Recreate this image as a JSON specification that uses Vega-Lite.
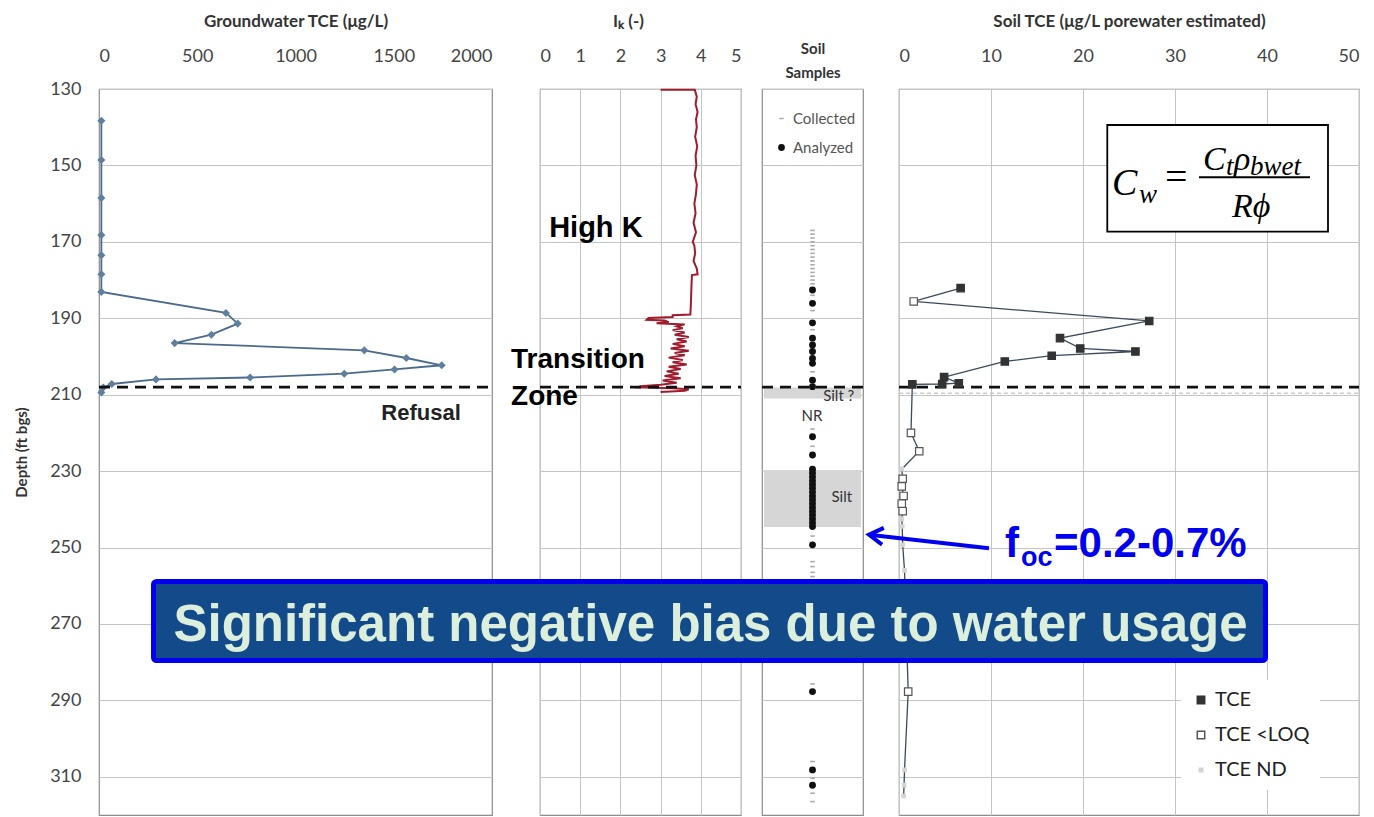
{
"$schema": "https://vega.github.io/schema/vega-lite/v6.json",
"background": "white",
"padding": {"left": 14, "top": 11, "right": 0, "bottom": 0},
"config": {
  "font": "Lato",
  "view": {"stroke": "#8c8c8c", "strokeWidth": 1.2},
  "axis": {"domain": false, "ticks": false, "tickSize": 0, "gridColor": "#c4c4c4", "gridWidth": 1, "labelFont": "Lato", "labelFontSize": 18, "labelColor": "#444", "titleFont": "Lato", "titleFontSize": 17, "titleFontWeight": "bold", "titleColor": "#333", "labelPadding": 24, "titlePadding": 17, "format": "d"}
},
"bounds": "flush",
"spacing": 0,
"resolve": {"scale": {"fill": "independent", "stroke": "independent", "shape": "independent", "size": "independent"}},
"hconcat": [
  {
    "width": 393, "height": 726,
    "encoding": {
      "x": {"field": "x", "type": "quantitative", "scale": {"domain": [0, 2000], "nice": false, "zero": false}, "axis": {"orient": "top", "values": [0, 500, 1000, 1500, 2000], "grid": false, "title": "Groundwater TCE (μg/L)"}},
      "y": {"field": "depth", "type": "quantitative", "scale": {"domain": [130, 320], "reverse": true, "nice": false, "zero": false}, "axis": {"orient": "left", "values": [130, 150, 170, 190, 210, 230, 250, 270, 290, 310], "title": "Depth (ft bgs)", "titleFontSize": 15, "labelPadding": 18, "titlePadding": 20, "grid": true}}
    },
    "layer": [
      {
        "data": {"values": [
          {"n": 1, "x": 12, "depth": 138.3}, {"n": 2, "x": 12, "depth": 148.6}, {"n": 3, "x": 12, "depth": 158.5},
          {"n": 4, "x": 12, "depth": 168.2}, {"n": 5, "x": 12, "depth": 173.5}, {"n": 6, "x": 12, "depth": 178.5},
          {"n": 7, "x": 12, "depth": 183.1}, {"n": 8, "x": 646, "depth": 188.6}, {"n": 9, "x": 706, "depth": 191.4},
          {"n": 10, "x": 572, "depth": 194.3}, {"n": 11, "x": 385, "depth": 196.5}, {"n": 12, "x": 1350, "depth": 198.4},
          {"n": 13, "x": 1564, "depth": 200.4}, {"n": 14, "x": 1744, "depth": 202.3}, {"n": 15, "x": 1504, "depth": 203.4},
          {"n": 16, "x": 1248, "depth": 204.5}, {"n": 17, "x": 769, "depth": 205.5}, {"n": 18, "x": 290, "depth": 206.0},
          {"n": 19, "x": 65, "depth": 207.2}, {"n": 20, "x": 22, "depth": 208.1}, {"n": 21, "x": 12, "depth": 209.4}
        ]},
        "mark": {"type": "line", "color": "#4a6a8c", "strokeWidth": 1.8, "point": {"shape": "diamond", "size": 65, "filled": true, "color": "#5f7f9f"}},
        "encoding": {"order": {"field": "n", "type": "quantitative"}}
      },
      {
        "data": {"values": [{"x": 0, "x2": 2000, "depth": 208}]},
        "mark": {"type": "rule", "strokeDash": [11, 7], "strokeWidth": 2.8, "color": "#111"},
        "encoding": {"x2": {"field": "x2"}}
      },
      {
        "data": {"values": [{"x": 1639, "depth": 214.8, "label": "Refusal"}]},
        "mark": {"type": "text", "font": "Liberation Sans", "fontWeight": "bold", "fontSize": 22, "color": "#222", "align": "center", "baseline": "middle"},
        "encoding": {"text": {"field": "label"}}
      }
    ]
  },
  {
    "width": 48, "height": 726, "view": {"stroke": null},
    "data": {"values": []},
    "mark": {"type": "point", "opacity": 0}
  },
  {
    "width": 201, "height": 726,
    "encoding": {
      "x": {"field": "x", "type": "quantitative", "scale": {"domain": [0, 5], "nice": false, "zero": false}, "axis": {"orient": "top", "values": [0, 1, 2, 3, 4, 5], "grid": true, "title": "Iₖ (-)", "titleX": 88}},
      "y": {"field": "depth", "type": "quantitative", "scale": {"domain": [130, 320], "reverse": true, "nice": false, "zero": false}, "axis": {"values": [130, 150, 170, 190, 210, 230, 250, 270, 290, 310], "labels": false, "title": null, "grid": true}}
    },
    "layer": [
      {
        "data": {"values": [
          {"n": 1, "x": 3.0, "depth": 130.2}, {"n": 2, "x": 3.85, "depth": 130.2}, {"n": 3, "x": 3.9, "depth": 132},
          {"n": 4, "x": 3.87, "depth": 134}, {"n": 5, "x": 3.92, "depth": 136}, {"n": 6, "x": 3.88, "depth": 138},
          {"n": 7, "x": 3.9, "depth": 140}, {"n": 8, "x": 3.86, "depth": 142.5}, {"n": 9, "x": 3.91, "depth": 145},
          {"n": 10, "x": 3.87, "depth": 147.5}, {"n": 11, "x": 3.89, "depth": 150}, {"n": 12, "x": 3.85, "depth": 152.5},
          {"n": 13, "x": 3.9, "depth": 155}, {"n": 14, "x": 3.88, "depth": 157.5}, {"n": 15, "x": 3.84, "depth": 160},
          {"n": 16, "x": 3.87, "depth": 162.5}, {"n": 17, "x": 3.82, "depth": 165}, {"n": 18, "x": 3.88, "depth": 167.5},
          {"n": 19, "x": 3.8, "depth": 170}, {"n": 20, "x": 3.84, "depth": 171}, {"n": 21, "x": 3.86, "depth": 173},
          {"n": 22, "x": 3.82, "depth": 175}, {"n": 23, "x": 3.9, "depth": 177}, {"n": 24, "x": 3.92, "depth": 178.5},
          {"n": 25, "x": 3.78, "depth": 178.7}, {"n": 26, "x": 3.77, "depth": 181}, {"n": 27, "x": 3.76, "depth": 184},
          {"n": 28, "x": 3.75, "depth": 187}, {"n": 29, "x": 3.74, "depth": 189}, {"n": 30, "x": 3.3, "depth": 189.2},
          {"n": 31, "x": 3.3, "depth": 189.7}, {"n": 32, "x": 2.7, "depth": 189.9}, {"n": 33, "x": 2.65, "depth": 190.4},
          {"n": 34, "x": 3.1, "depth": 190.6}, {"n": 35, "x": 3.2, "depth": 191.0}, {"n": 36, "x": 2.9, "depth": 191.3},
          {"n": 37, "x": 3.6, "depth": 191.6}, {"n": 38, "x": 3.4, "depth": 192.1}, {"n": 39, "x": 3.55, "depth": 192.6},
          {"n": 40, "x": 3.3, "depth": 193.1}, {"n": 41, "x": 3.6, "depth": 193.7}, {"n": 42, "x": 3.35, "depth": 194.3},
          {"n": 43, "x": 3.7, "depth": 194.9}, {"n": 44, "x": 3.4, "depth": 195.5}, {"n": 45, "x": 3.65, "depth": 196.1},
          {"n": 46, "x": 3.3, "depth": 196.7}, {"n": 47, "x": 3.6, "depth": 197.3}, {"n": 48, "x": 3.25, "depth": 197.9},
          {"n": 49, "x": 3.7, "depth": 198.5}, {"n": 50, "x": 3.35, "depth": 199.1}, {"n": 51, "x": 3.6, "depth": 199.7},
          {"n": 52, "x": 3.2, "depth": 200.3}, {"n": 53, "x": 3.55, "depth": 200.9}, {"n": 54, "x": 3.3, "depth": 201.5},
          {"n": 55, "x": 3.65, "depth": 202.1}, {"n": 56, "x": 3.2, "depth": 202.7}, {"n": 57, "x": 3.5, "depth": 203.3},
          {"n": 58, "x": 3.15, "depth": 203.9}, {"n": 59, "x": 3.45, "depth": 204.5}, {"n": 60, "x": 3.1, "depth": 205.1},
          {"n": 61, "x": 3.5, "depth": 205.7}, {"n": 62, "x": 3.05, "depth": 206.3}, {"n": 63, "x": 3.4, "depth": 206.9},
          {"n": 64, "x": 3.0, "depth": 207.4}, {"n": 65, "x": 2.5, "depth": 207.8}, {"n": 66, "x": 2.45, "depth": 208.1},
          {"n": 67, "x": 3.3, "depth": 208.3}, {"n": 68, "x": 3.7, "depth": 208.6}, {"n": 69, "x": 3.6, "depth": 209.0},
          {"n": 70, "x": 3.0, "depth": 209.3}
        ]},
        "mark": {"type": "line", "color": "#a01c2c", "strokeWidth": 2},
        "encoding": {"order": {"field": "n", "type": "quantitative"}}
      },
      {
        "data": {"values": [{"x": 0, "x2": 5, "depth": 208}]},
        "mark": {"type": "rule", "strokeDash": [11, 7], "strokeWidth": 2.8, "color": "#111"},
        "encoding": {"x2": {"field": "x2"}}
      },
      {
        "data": {"values": [{"x": 1.39, "depth": 166.4, "label": "High K"}]},
        "mark": {"type": "text", "font": "Liberation Sans", "fontWeight": "bold", "fontSize": 29, "color": "#000", "align": "center", "baseline": "middle"},
        "encoding": {"text": {"field": "label"}}
      },
      {
        "data": {"values": [{"x": -0.72, "depth": 200.9, "label": "Transition"}, {"x": -0.72, "depth": 210.6, "label": "Zone"}]},
        "mark": {"type": "text", "font": "Liberation Sans", "fontWeight": "bold", "fontSize": 28, "color": "#000", "align": "left", "baseline": "middle"},
        "encoding": {"text": {"field": "label"}}
      }
    ]
  },
  {
    "width": 21, "height": 726, "view": {"stroke": null},
    "data": {"values": []},
    "mark": {"type": "point", "opacity": 0}
  },
  {
    "width": 101, "height": 726,
    "encoding": {
      "x": {"field": "x", "type": "quantitative", "scale": {"domain": [0, 1], "nice": false, "zero": false}, "axis": {"orient": "top", "values": [0.5], "labels": false, "grid": false, "title": ["Soil", "Samples"], "titleFontSize": 15, "titleLineHeight": 24, "titlePadding": 9}},
      "y": {"field": "depth", "type": "quantitative", "scale": {"domain": [130, 320], "reverse": true, "nice": false, "zero": false}, "axis": {"values": [130, 150, 170, 190, 210, 230, 250, 270, 290, 310], "labels": false, "title": null, "grid": true}}
    },
    "layer": [
      {
        "data": {"values": [{"x": 0.02, "x2": 0.98, "depth": 208.1, "depth2": 211}, {"x": 0.02, "x2": 0.98, "depth": 229.7, "depth2": 244.6}]},
        "mark": {"type": "rect", "color": "#d6d6d6"},
        "encoding": {"x2": {"field": "x2"}, "y2": {"field": "depth2"}}
      },
      {
        "data": {"values": [{"x": 0, "x2": 1, "depth": 208}]},
        "mark": {"type": "rule", "strokeDash": [11, 7], "strokeWidth": 2.8, "color": "#111"},
        "encoding": {"x2": {"field": "x2"}}
      },
      {
        "data": {"values": [
          {"x": 0.5, "depth": 167, "kind": "Collected"}, {"x": 0.5, "depth": 168, "kind": "Collected"}, {"x": 0.5, "depth": 169, "kind": "Collected"},
          {"x": 0.5, "depth": 170, "kind": "Collected"}, {"x": 0.5, "depth": 171, "kind": "Collected"}, {"x": 0.5, "depth": 172, "kind": "Collected"},
          {"x": 0.5, "depth": 173, "kind": "Collected"}, {"x": 0.5, "depth": 174, "kind": "Collected"}, {"x": 0.5, "depth": 175, "kind": "Collected"},
          {"x": 0.5, "depth": 176, "kind": "Collected"}, {"x": 0.5, "depth": 177, "kind": "Collected"}, {"x": 0.5, "depth": 178, "kind": "Collected"},
          {"x": 0.5, "depth": 179, "kind": "Collected"}, {"x": 0.5, "depth": 180, "kind": "Collected"}, {"x": 0.5, "depth": 181, "kind": "Collected"},
          {"x": 0.5, "depth": 184, "kind": "Collected"}, {"x": 0.5, "depth": 188, "kind": "Collected"}, {"x": 0.5, "depth": 193, "kind": "Collected"},
          {"x": 0.5, "depth": 204, "kind": "Collected"}, {"x": 0.5, "depth": 219, "kind": "Collected"}, {"x": 0.5, "depth": 223.5, "kind": "Collected"},
          {"x": 0.5, "depth": 247, "kind": "Collected"}, {"x": 0.5, "depth": 253.7, "kind": "Collected"}, {"x": 0.5, "depth": 255, "kind": "Collected"},
          {"x": 0.5, "depth": 256.5, "kind": "Collected"}, {"x": 0.5, "depth": 257.6, "kind": "Collected"}, {"x": 0.5, "depth": 285.7, "kind": "Collected"},
          {"x": 0.5, "depth": 306, "kind": "Collected"}, {"x": 0.5, "depth": 310.4, "kind": "Collected"}, {"x": 0.5, "depth": 314.3, "kind": "Collected"},
          {"x": 0.5, "depth": 316.5, "kind": "Collected"},
          {"x": 0.5, "depth": 182.6, "kind": "Analyzed"}, {"x": 0.5, "depth": 186.1, "kind": "Analyzed"}, {"x": 0.5, "depth": 191.2, "kind": "Analyzed"},
          {"x": 0.5, "depth": 195.2, "kind": "Analyzed"}, {"x": 0.5, "depth": 197, "kind": "Analyzed"}, {"x": 0.5, "depth": 198.7, "kind": "Analyzed"},
          {"x": 0.5, "depth": 200.5, "kind": "Analyzed"}, {"x": 0.5, "depth": 201.8, "kind": "Analyzed"}, {"x": 0.5, "depth": 206.2, "kind": "Analyzed"},
          {"x": 0.5, "depth": 207.9, "kind": "Analyzed"}, {"x": 0.5, "depth": 221, "kind": "Analyzed"}, {"x": 0.5, "depth": 225.8, "kind": "Analyzed"},
          {"x": 0.5, "depth": 229.5, "kind": "Analyzed"}, {"x": 0.5, "depth": 230.5, "kind": "Analyzed"}, {"x": 0.5, "depth": 231.5, "kind": "Analyzed"},
          {"x": 0.5, "depth": 232.5, "kind": "Analyzed"}, {"x": 0.5, "depth": 233.5, "kind": "Analyzed"}, {"x": 0.5, "depth": 234.5, "kind": "Analyzed"},
          {"x": 0.5, "depth": 235.5, "kind": "Analyzed"}, {"x": 0.5, "depth": 236.5, "kind": "Analyzed"}, {"x": 0.5, "depth": 237.5, "kind": "Analyzed"},
          {"x": 0.5, "depth": 238.5, "kind": "Analyzed"}, {"x": 0.5, "depth": 239.5, "kind": "Analyzed"}, {"x": 0.5, "depth": 240.5, "kind": "Analyzed"},
          {"x": 0.5, "depth": 241.5, "kind": "Analyzed"}, {"x": 0.5, "depth": 242.5, "kind": "Analyzed"}, {"x": 0.5, "depth": 243.5, "kind": "Analyzed"},
          {"x": 0.5, "depth": 244.5, "kind": "Analyzed"}, {"x": 0.5, "depth": 249.3, "kind": "Analyzed"}, {"x": 0.5, "depth": 287.7, "kind": "Analyzed"},
          {"x": 0.5, "depth": 308.2, "kind": "Analyzed"}, {"x": 0.5, "depth": 312.2, "kind": "Analyzed"}
        ]},
        "mark": {"type": "point", "filled": true, "strokeWidth": 1.6, "opacity": 1},
        "encoding": {
          "fill": {"field": "kind", "type": "nominal", "scale": {"domain": ["Collected", "Analyzed"], "range": ["#aaaaaa", "#111111"]}, "legend": {"title": null, "orient": "none", "legendX": 8, "legendY": 18, "padding": 4, "labelFontSize": 15, "labelColor": "#555", "rowPadding": 13, "fillColor": "white"}},
          "stroke": {"field": "kind", "type": "nominal", "scale": {"domain": ["Collected", "Analyzed"], "range": ["#aaaaaa", "#111111"]}, "legend": {"title": null, "orient": "none", "legendX": 8, "legendY": 18, "padding": 4, "labelFontSize": 15, "labelColor": "#555", "rowPadding": 13, "fillColor": "white"}},
          "shape": {"field": "kind", "type": "nominal", "scale": {"domain": ["Collected", "Analyzed"], "range": ["stroke", "circle"]}, "legend": {"title": null, "orient": "none", "legendX": 8, "legendY": 18, "padding": 4, "labelFontSize": 15, "labelColor": "#555", "rowPadding": 13, "fillColor": "white"}},
          "size": {"field": "kind", "type": "nominal", "scale": {"type": "ordinal", "domain": ["Collected", "Analyzed"], "range": [20, 28]}, "legend": {"title": null, "orient": "none", "legendX": 8, "legendY": 18, "padding": 4, "labelFontSize": 15, "labelColor": "#555", "rowPadding": 13, "fillColor": "white"}}
        }
      },
      {
        "data": {"values": [{"x": 0.76, "depth": 210.4, "label": "Silt ?"}, {"x": 0.495, "depth": 215.6, "label": "NR"}, {"x": 0.79, "depth": 236.8, "label": "Silt"}]},
        "mark": {"type": "text", "font": "Lato", "fontSize": 15, "color": "#333", "align": "center", "baseline": "middle"},
        "encoding": {"text": {"field": "label"}}
      }
    ]
  },
  {
    "width": 36, "height": 726, "view": {"stroke": null},
    "data": {"values": []},
    "mark": {"type": "point", "opacity": 0}
  },
  {
    "width": 460, "height": 726,
    "encoding": {
      "x": {"field": "x", "type": "quantitative", "scale": {"domain": [0, 50], "nice": false, "zero": false}, "axis": {"orient": "top", "values": [0, 10, 20, 30, 40, 50], "grid": true, "title": "Soil TCE (μg/L porewater estimated)"}},
      "y": {"field": "depth", "type": "quantitative", "scale": {"domain": [130, 320], "reverse": true, "nice": false, "zero": false}, "axis": {"values": [130, 150, 170, 190, 210, 230, 250, 270, 290, 310], "labels": false, "title": null, "grid": true}}
    },
    "layer": [
      {
        "data": {"values": [{"x": 0, "x2": 50, "depth": 209.6}]},
        "mark": {"type": "rule", "strokeDash": [4, 3], "strokeWidth": 1.5, "color": "#cccccc"},
        "encoding": {"x2": {"field": "x2"}}
      },
      {
        "data": {"name": "soil"},
        "mark": {"type": "line", "color": "#3b4a5a", "strokeWidth": 1.3},
        "encoding": {"order": {"field": "n", "type": "quantitative"}}
      },
      {
        "data": {"values": [{"x": 0, "x2": 50, "depth": 208}]},
        "mark": {"type": "rule", "strokeDash": [11, 7], "strokeWidth": 2.8, "color": "#111"},
        "encoding": {"x2": {"field": "x2"}}
      },
      {
        "data": {"name": "soil"},
        "mark": {"type": "point", "filled": true, "strokeWidth": 1.2, "opacity": 1},
        "encoding": {
          "fill": {"field": "kind", "type": "nominal", "scale": {"domain": ["TCE", "TCE <LOQ", "TCE ND"], "range": ["#333333", "#ffffff", "#d4d4d4"]}, "legend": {"title": null, "orient": "none", "legendX": 282, "legendY": 591, "padding": 10, "labelFontSize": 20, "labelColor": "#222", "rowPadding": 15, "fillColor": "white"}},
          "stroke": {"field": "kind", "type": "nominal", "scale": {"domain": ["TCE", "TCE <LOQ", "TCE ND"], "range": ["#333333", "#555555", "#d4d4d4"]}, "legend": {"title": null, "orient": "none", "legendX": 282, "legendY": 591, "padding": 10, "labelFontSize": 20, "labelColor": "#222", "rowPadding": 15, "fillColor": "white"}},
          "shape": {"field": "kind", "type": "nominal", "scale": {"domain": ["TCE", "TCE <LOQ", "TCE ND"], "range": ["square", "square", "square"]}, "legend": {"title": null, "orient": "none", "legendX": 282, "legendY": 591, "padding": 10, "labelFontSize": 20, "labelColor": "#222", "rowPadding": 15, "fillColor": "white"}},
          "size": {"field": "kind", "type": "nominal", "scale": {"type": "ordinal", "domain": ["TCE", "TCE <LOQ", "TCE ND"], "range": [55, 55, 12]}, "legend": {"title": null, "orient": "none", "legendX": 282, "legendY": 591, "padding": 10, "labelFontSize": 20, "labelColor": "#222", "rowPadding": 15, "fillColor": "white"}}
        }
      },
      {
        "data": {"values": [{"x": 22.64, "x2": 46.63, "depth": 139.42, "depth2": 167.35}]},
        "mark": {"type": "rect", "fill": "white", "stroke": "#000", "strokeWidth": 1.8},
        "encoding": {"x2": {"field": "x2"}, "y2": {"field": "depth2"}}
      },
      {
        "data": {"values": [{"x": 32.61, "x2": 44.67, "depth": 153.11}]},
        "mark": {"type": "rule", "strokeWidth": 2, "color": "#000"},
        "encoding": {"x2": {"field": "x2"}}
      },
      {
        "data": {"values": [{"x": 23.15, "depth": 157.74, "label": "C"}]},
        "mark": {"type": "text", "font": "Liberation Serif", "fontStyle": "italic", "fontSize": 38, "color": "#000", "align": "left", "baseline": "alphabetic"},
        "encoding": {"text": {"field": "label"}}
      },
      {
        "data": {"values": [{"x": 28.91, "depth": 156.4, "label": "="}]},
        "mark": {"type": "text", "font": "Liberation Serif", "fontSize": 40, "color": "#000", "align": "left", "baseline": "alphabetic"},
        "encoding": {"text": {"field": "label"}}
      },
      {
        "data": {"values": [{"x": 33.04, "depth": 151.2, "label": "C"}, {"x": 36.41, "depth": 151.2, "label": "ρ"}, {"x": 36.2, "depth": 163.5, "label": "Rϕ"}]},
        "mark": {"type": "text", "font": "Liberation Serif", "fontStyle": "italic", "fontSize": 34, "color": "#000", "align": "left", "baseline": "alphabetic"},
        "encoding": {"text": {"field": "label"}}
      },
      {
        "data": {"values": [{"x": 26.09, "depth": 159.83, "label": "w"}, {"x": 35.54, "depth": 152.5, "label": "t"}, {"x": 38.15, "depth": 152.5, "label": "bwet"}]},
        "mark": {"type": "text", "font": "Liberation Serif", "fontStyle": "italic", "fontSize": 27, "color": "#000", "align": "left", "baseline": "alphabetic"},
        "encoding": {"text": {"field": "label"}}
      },
      {
        "data": {"values": [{"x": 9.78, "x2": -3.0, "depth": 250.2, "depth2": 246.75}]},
        "mark": {"type": "rule", "strokeWidth": 4, "color": "#0000ee"},
        "encoding": {"x2": {"field": "x2"}, "y2": {"field": "depth2"}}
      },
      {
        "data": {"values": [{"x": -2.5, "depth": 246.85}]},
        "mark": {"type": "point", "shape": "M1,-1.2L-1,0L1,1.2", "size": 196, "filled": false, "stroke": "#0000ee", "strokeWidth": 4, "angle": 6, "opacity": 1}
      },
      {
        "data": {"values": [{"x": 11.52, "depth": 252.4, "label": "f"}, {"x": 16.85, "depth": 252.4, "label": "=0.2-0.7%"}]},
        "mark": {"type": "text", "font": "Liberation Sans", "fontWeight": "bold", "fontSize": 42, "color": "#0000ee", "align": "left", "baseline": "alphabetic"},
        "encoding": {"text": {"field": "label"}}
      },
      {
        "data": {"values": [{"x": 13.26, "depth": 254.83, "label": "oc"}]},
        "mark": {"type": "text", "font": "Liberation Sans", "fontWeight": "bold", "fontSize": 27, "color": "#0000ee", "align": "left", "baseline": "alphabetic"},
        "encoding": {"text": {"field": "label"}}
      },
      {
        "data": {"values": [{"x": -81.03, "x2": 39.84, "depth": 258.89, "depth2": 279.57}]},
        "mark": {"type": "rect", "fill": "#134a8a", "stroke": "#0000ee", "strokeWidth": 5, "cornerRadius": 3},
        "encoding": {"x2": {"field": "x2"}, "y2": {"field": "depth2"}}
      },
      {
        "data": {"values": [{"x": -20.49, "depth": 274.46, "label": "Significant negative bias due to water usage"}]},
        "mark": {"type": "text", "font": "Liberation Sans", "fontWeight": "bold", "fontSize": 51, "color": "#dcefdc", "align": "center", "baseline": "alphabetic"},
        "encoding": {"text": {"field": "label"}}
      }
    ]
  }
],
"datasets": {
  "soil": [
    {"n": 1, "x": 6.7, "depth": 182.1, "kind": "TCE"},
    {"n": 2, "x": 1.6, "depth": 185.6, "kind": "TCE <LOQ"},
    {"n": 3, "x": 27.2, "depth": 190.7, "kind": "TCE"},
    {"n": 4, "x": 17.5, "depth": 195.2, "kind": "TCE"},
    {"n": 5, "x": 19.7, "depth": 197.9, "kind": "TCE"},
    {"n": 6, "x": 25.7, "depth": 198.7, "kind": "TCE"},
    {"n": 7, "x": 16.6, "depth": 199.8, "kind": "TCE"},
    {"n": 8, "x": 11.5, "depth": 201.3, "kind": "TCE"},
    {"n": 9, "x": 4.9, "depth": 205.4, "kind": "TCE"},
    {"n": 10, "x": 6.5, "depth": 207.0, "kind": "TCE"},
    {"n": 11, "x": 4.7, "depth": 207.2, "kind": "TCE"},
    {"n": 12, "x": 1.45, "depth": 207.3, "kind": "TCE"},
    {"n": 13, "x": 1.3, "depth": 220.0, "kind": "TCE <LOQ"},
    {"n": 14, "x": 2.2, "depth": 224.8, "kind": "TCE <LOQ"},
    {"n": 15, "x": 0.3, "depth": 229.5, "kind": "TCE ND"},
    {"n": 16, "x": 0.4, "depth": 232.0, "kind": "TCE <LOQ"},
    {"n": 17, "x": 0.3, "depth": 234.0, "kind": "TCE <LOQ"},
    {"n": 18, "x": 0.5, "depth": 236.5, "kind": "TCE <LOQ"},
    {"n": 19, "x": 0.3, "depth": 238.5, "kind": "TCE <LOQ"},
    {"n": 20, "x": 0.4, "depth": 240.5, "kind": "TCE <LOQ"},
    {"n": 21, "x": 0.3, "depth": 242.5, "kind": "TCE ND"},
    {"n": 22, "x": 0.35, "depth": 244.5, "kind": "TCE ND"},
    {"n": 23, "x": 0.4, "depth": 249.3, "kind": "TCE ND"},
    {"n": 24, "x": 0.6, "depth": 256.0, "kind": "TCE ND"},
    {"n": 25, "x": 1.0, "depth": 287.7, "kind": "TCE <LOQ"},
    {"n": 26, "x": 0.6, "depth": 308.2, "kind": "TCE ND"},
    {"n": 27, "x": 0.55, "depth": 312.2, "kind": "TCE ND"},
    {"n": 28, "x": 0.5, "depth": 315.0, "kind": "TCE ND"}
  ]
}
}
